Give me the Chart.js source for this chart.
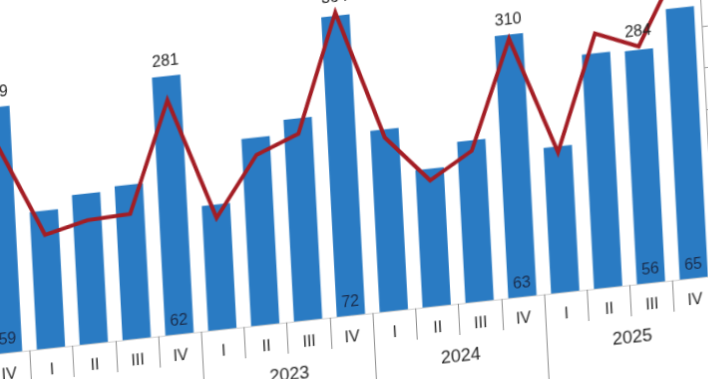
<!DOCTYPE html>
<html>
<head>
<meta charset="utf-8">
<script src="https://cdn.jsdelivr.net/npm/chart.js@4.4.1/dist/chart.umd.min.js"></script>
<style>
html, body { margin: 0; padding: 0; background: #fff; overflow: hidden; width: 708px; height: 379px; }
canvas { position: absolute; left: 0; top: 0; }
</style>
</head>
<body>
<canvas id="chart" width="800" height="470"></canvas>
<script>
// quarters, year of each quarter
const quarters = ['IV', 'I', 'II', 'III', 'IV', 'I', 'II', 'III', 'IV', 'I', 'II', 'III', 'IV', 'I', 'II', 'III', 'IV']
const years = ['2021', '2022', '2022', '2022', '2022', '2023', '2023', '2023', '2023',
               '2024', '2024', '2024', '2024', '2025', '2025', '2025', '2025']
// bars (left axis) and line (right axis)
const volume = [59, 33, 36, 37, 62, 30, 45, 48.5, 72, 43.6, 33, 38.7, 63, 35, 56.3, 56, 65]
const total = [249, 136, 148, 150, 281, 134, 204, 224, 364, 208, 151, 181, 310, 168, 305, 284, 375]
// which quarters carry value labels
const labelled = [0, 4, 8, 12, 15, 16]

const FONT = '"Liberation Sans Narrow", "Arial Narrow", "Liberation Sans", sans-serif'

const axisPlugin = {
  id: 'quarterAxis',
  afterDraw(chart) {
    const { ctx, chartArea: ca } = chart
    const x = chart.scales.x
    const n = quarters.length
    const edge = i => i <= 0 ? ca.left : i >= n ? ca.right : (x.getPixelForValue(i - 1) + x.getPixelForValue(i)) / 2
    ctx.save()
    ctx.lineWidth = 1
    ctx.strokeStyle = '#cfcfcf'
    ctx.beginPath()
    ctx.moveTo(ca.left, ca.bottom + 0.5)
    ctx.lineTo(ca.right, ca.bottom + 0.5)
    ctx.stroke()
    ctx.strokeStyle = '#8c8c8c'
    for (let i = 0; i <= n; i++) {
      const newYear = i === 0 || i === n || years[i] !== years[i - 1]
      const len = newYear ? 90 : 32
      const px = Math.round(edge(i)) + 0.5
      ctx.beginPath()
      ctx.moveTo(px, ca.bottom)
      ctx.lineTo(px, ca.bottom + len)
      ctx.stroke()
    }
    ctx.fillStyle = '#262626'
    ctx.textAlign = 'center'
    ctx.textBaseline = 'middle'
    ctx.font = '16px ' + FONT
    quarters.forEach((q, i) => ctx.fillText(q, x.getPixelForValue(i), ca.bottom + 23))
    ctx.font = '18px ' + FONT
    let start = 0
    for (let i = 1; i <= n; i++) {
      if (i === n || years[i] !== years[start]) {
        ctx.fillText(years[start], (edge(start) + edge(i)) / 2, ca.bottom + 54)
        start = i
      }
    }
    ctx.restore()
  }
}

const labelPlugin = {
  id: 'valueLabels',
  afterDatasetsDraw(chart) {
    const { ctx, chartArea: ca } = chart
    const x = chart.scales.x, yb = chart.scales.y, yl = chart.scales.y1
    ctx.save()
    ctx.textAlign = 'center'
    ctx.textBaseline = 'middle'
    ctx.font = '16px ' + FONT
    labelled.forEach(i => {
      const px = x.getPixelForValue(i)
      const top = Math.min(yb.getPixelForValue(volume[i]), yl.getPixelForValue(total[i]))
      ctx.fillStyle = '#222'
      ctx.fillText(String(total[i]), px, top - 15)
      ctx.fillStyle = '#1b2d4c'
      ctx.fillText(String(volume[i]), px, ca.bottom - 13)
    })
    ctx.restore()
  }
}

const canvas = document.getElementById('chart')
const chart = new Chart(canvas.getContext('2d'), {
  type: 'bar',
  data: {
    labels: quarters,
    datasets: [
      {
        type: 'line',
        data: total,
        yAxisID: 'y1',
        borderColor: '#a31d24',
        borderWidth: 4,
        pointRadius: 0,
        tension: 0,
        order: 0
      },
      {
        type: 'bar',
        data: volume,
        yAxisID: 'y',
        backgroundColor: '#2a7bc3',
        barPercentage: 0.66,
        categoryPercentage: 1,
        order: 1
      }
    ]
  },
  options: {
    responsive: false,
    animation: false,
    layout: { padding: { top: 30, bottom: 100, left: 20, right: 10 } },
    plugins: { legend: { display: false }, tooltip: { enabled: false } },
    scales: {
      x: { display: false, offset: true },
      y: { display: false, min: 0, max: 80 },
      y1: {
        position: 'right',
        min: 0,
        max: 400,
        ticks: { stepSize: 50, color: '#555', font: { size: 14 } },
        grid: { drawOnChartArea: false, tickLength: 6, color: '#999' },
        border: { color: '#999' }
      }
    }
  },
  plugins: [axisPlugin, labelPlugin]
})

// the source is a tilted photo: map the flat chart onto it
const ca = chart.chartArea
const catW = (ca.right - ca.left) / quarters.length
const a = 42.86 / catW
const d = 332.8 / (ca.bottom - ca.top)
const b = -0.1088 * a
const c = 0.052 * d
const x0 = ca.left + catW, y0 = ca.bottom
const e = 29.5 - a * x0 - c * y0
const f = 350.3 - b * x0 - d * y0
canvas.style.transformOrigin = '0 0'
canvas.style.transform = `matrix(${a}, ${b}, ${c}, ${d}, ${e}, ${f})`
</script>
</body>
</html>
